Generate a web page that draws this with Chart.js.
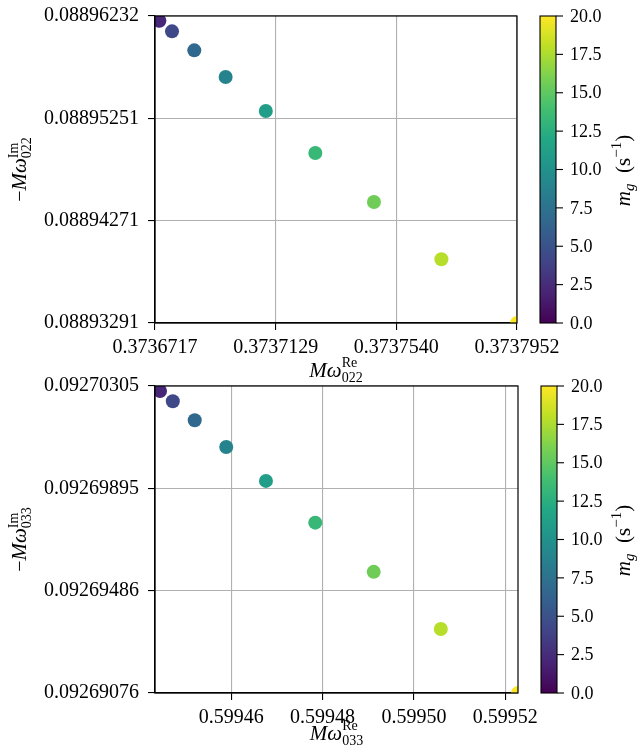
<!DOCTYPE html>
<html>
<head>
<meta charset="utf-8">
<script src="https://cdn.jsdelivr.net/npm/chart.js@4.4.0/dist/chart.umd.min.js"></script>
<style>
  body { margin: 0; background: #fff; }
  .box { position: absolute; left: 0; width: 637px; }
</style>
</head>
<body>
<div class="box" style="top:0;height:392px"><canvas id="c022"></canvas></div>
<div class="box" style="top:366px;height:387px"><canvas id="c033"></canvas></div>
<script>
// m_g (s^-1) der Punkte
var mg = [2.2, 4.4, 6.7, 8.9, 11.1, 13.3, 15.6, 17.8, 20.0];

// (0,2,2)
var re022 = [0.3736732, 0.3736775, 0.3736851, 0.3736958, 0.3737095, 0.3737264, 0.3737464, 0.3737694, 0.3737952];
var im022 = [0.08896187, 0.08896085, 0.08895903, 0.08895648, 0.08895322, 0.08894920, 0.08894450, 0.08893901, 0.08893291];
var x022Ticks = [0.3736717, 0.3737129, 0.3737540, 0.3737952];
var y022Ticks = [0.08893291, 0.08894271, 0.08895251, 0.08896232];

// (0,3,3)
var re033 = [0.5994444, 0.5994472, 0.5994520, 0.5994589, 0.5994676, 0.5994784, 0.5994912, 0.5995059, 0.5995228];
var im033 = [0.09270285, 0.09270244, 0.09270168, 0.09270061, 0.09269925, 0.09269758, 0.09269561, 0.09269332, 0.09269076];
var x033Range = [0.5994433, 0.5995228];
var x033Ticks = [0.59946, 0.59948, 0.59950, 0.59952];
var y033Ticks = [0.09269076, 0.09269486, 0.09269895, 0.09270305];

var cbRange = [0, 20];
var cbTicks = [0, 2.5, 5, 7.5, 10, 12.5, 15, 17.5, 20];

var FAM = "'Liberation Serif', 'DejaVu Serif', serif";

var viridisStops = ['#440154','#482475','#414487','#355f8d','#2a788e','#21918c','#22a884','#44bf70','#7ad151','#bddf26','#fde725'];
function hex2rgb(h) { return [parseInt(h.substr(1,2),16), parseInt(h.substr(3,2),16), parseInt(h.substr(5,2),16)]; }
function viridis(t) {
    t = Math.max(0, Math.min(1, t)) * (viridisStops.length - 1);
    var i = Math.min(Math.floor(t), viridisStops.length - 2), f = t - i;
    var a = hex2rgb(viridisStops[i]), b = hex2rgb(viridisStops[i+1]);
    return 'rgb(' + [0,1,2].map(function(k){ return Math.round(a[k] + (b[k]-a[k])*f); }).join(',') + ')';
}

// Text mit Hoch-/Tiefstellung, zentriert um (x,y)
function richText(ctx, segs, x, y, rot) {
    ctx.save(); ctx.translate(x, y); ctx.rotate(rot || 0);
    var cur = 0, lastStart = 0, pos = [];
    segs.forEach(function (s) {
        ctx.font = s.f; var w = ctx.measureText(s.t).width;
        if (s.stack) { pos.push(lastStart); cur = Math.max(cur, lastStart + w); }
        else { pos.push(cur); lastStart = cur; cur += w; }
    });
    ctx.fillStyle = '#000'; ctx.textBaseline = 'alphabetic'; ctx.textAlign = 'left';
    segs.forEach(function (s, i) { ctx.font = s.f; ctx.fillText(s.t, pos[i] - cur/2, s.dy || 0); });
    ctx.restore();
}

function R(sz) { return sz + 'px ' + FAM; }
function I(sz) { return 'italic ' + sz + 'px ' + FAM; }

var framePlugin = {
    id: 'frame',
    afterDraw: function (chart) {
        var ctx = chart.ctx, a = chart.chartArea, o = chart.options.plugins.frame;
        ctx.save();
        ctx.strokeStyle = '#000'; ctx.lineWidth = 1.2;
        ctx.strokeRect(a.left, a.top, a.right - a.left, a.bottom - a.top);

        // Farbskala
        var x0 = a.right + 23, w = 16, h = a.bottom - a.top;
        var g = ctx.createLinearGradient(0, a.bottom, 0, a.top);
        for (var i = 0; i <= 20; i++) g.addColorStop(i/20, viridis(i/20));
        ctx.fillStyle = g; ctx.fillRect(x0, a.top, w, h);
        ctx.lineWidth = 1.1; ctx.strokeRect(x0, a.top, w, h);
        ctx.font = R(18); ctx.fillStyle = '#000'; ctx.textBaseline = 'middle'; ctx.textAlign = 'left';
        cbTicks.forEach(function (v) {
            var y = a.bottom - (v - cbRange[0]) / (cbRange[1] - cbRange[0]) * h;
            ctx.beginPath(); ctx.moveTo(x0 + w, y); ctx.lineTo(x0 + w + 7, y); ctx.stroke();
            ctx.fillText(v.toFixed(1), x0 + w + 14, y + 1);
        });
        ctx.restore();

        var mid = (a.top + a.bottom) / 2, cx = (a.left + a.right) / 2;
        richText(ctx, [{t:'m',f:I(21)},{t:'g',f:I(15),dy:4},{t:'  (s',f:R(21)},{t:'\u22121',f:R(15),dy:-9},{t:')',f:R(21)}], 630, mid + 1, -Math.PI/2);
        richText(ctx, [{t:'\u2212',f:R(20)},{t:'M',f:I(21)},{t:'\u03c9',f:I(21)},{t:'Im',f:R(14),dy:-8},{t:o.sub,f:R(14),dy:5,stack:true}], 26, mid, -Math.PI/2);
        richText(ctx, [{t:'M',f:I(21)},{t:'\u03c9',f:I(21)},{t:'Re',f:R(14),dy:-10},{t:o.sub,f:R(14),dy:5,stack:true}], cx, o.xlabY, 0);
    }
};

function makeChart(id, xs, ys, xr, yr, xt, yt, xdec, area, sub, xlabY) {
    var H = document.getElementById(id).parentNode.clientHeight;
    var pts = xs.map(function (x, i) { return { x: x, y: ys[i] }; });
    function axis(ticks, range, dec, isX) {
        return {
            type: 'linear', min: range[0], max: range[1],
            afterBuildTicks: function (s) { s.ticks = ticks.map(function (v) { return { value: v }; }); },
            afterFit: function (s) { if (isX) s.height = H - area.bottom; else s.width = area.left; },
            ticks: { autoSkip: false, maxRotation: 0, color: '#000', font: { family: FAM, size: 20, lineHeight: isX ? 1.2 : 0.3 },
                     padding: isX ? 6 : 9,
                     callback: function (v) { return v.toFixed(dec); } },
            grid: { color: '#b0b0b0', lineWidth: 1.1, tickColor: '#000', tickLength: 7, tickWidth: 1.1 },
            border: { display: true, color: '#000', width: 1.2 }
        };
    }
    return new Chart(document.getElementById(id), {
        type: 'scatter',
        data: { datasets: [{ data: pts, clip: 0, pointRadius: 7, pointHoverRadius: 7, borderWidth: 0,
                             backgroundColor: mg.map(function (m) { return viridis((m - cbRange[0]) / (cbRange[1] - cbRange[0])); }) }] },
        options: {
            responsive: true, maintainAspectRatio: false, animation: false, devicePixelRatio: 1,
            layout: { padding: { left: 0, top: area.top, right: 637 - area.right, bottom: 0 } },
            scales: { x: axis(xt, xr, xdec, true), y: axis(yt, yr, 8, false) },
            plugins: { legend: { display: false }, tooltip: { enabled: false }, frame: { sub: sub, xlabY: xlabY } }
        },
        plugins: [framePlugin]
    });
}

makeChart('c022', re022, im022, [x022Ticks[0], x022Ticks[3]], [y022Ticks[0], y022Ticks[3]], x022Ticks, y022Ticks, 7,
          { left: 155, top: 16, right: 517, bottom: 323 }, '022', 377);
makeChart('c033', re033, im033, x033Range, [y033Ticks[0], y033Ticks[3]], x033Ticks, y033Ticks, 5,
          { left: 155, top: 20, right: 518, bottom: 327 }, '033', 374);
</script>
</body>
</html>
